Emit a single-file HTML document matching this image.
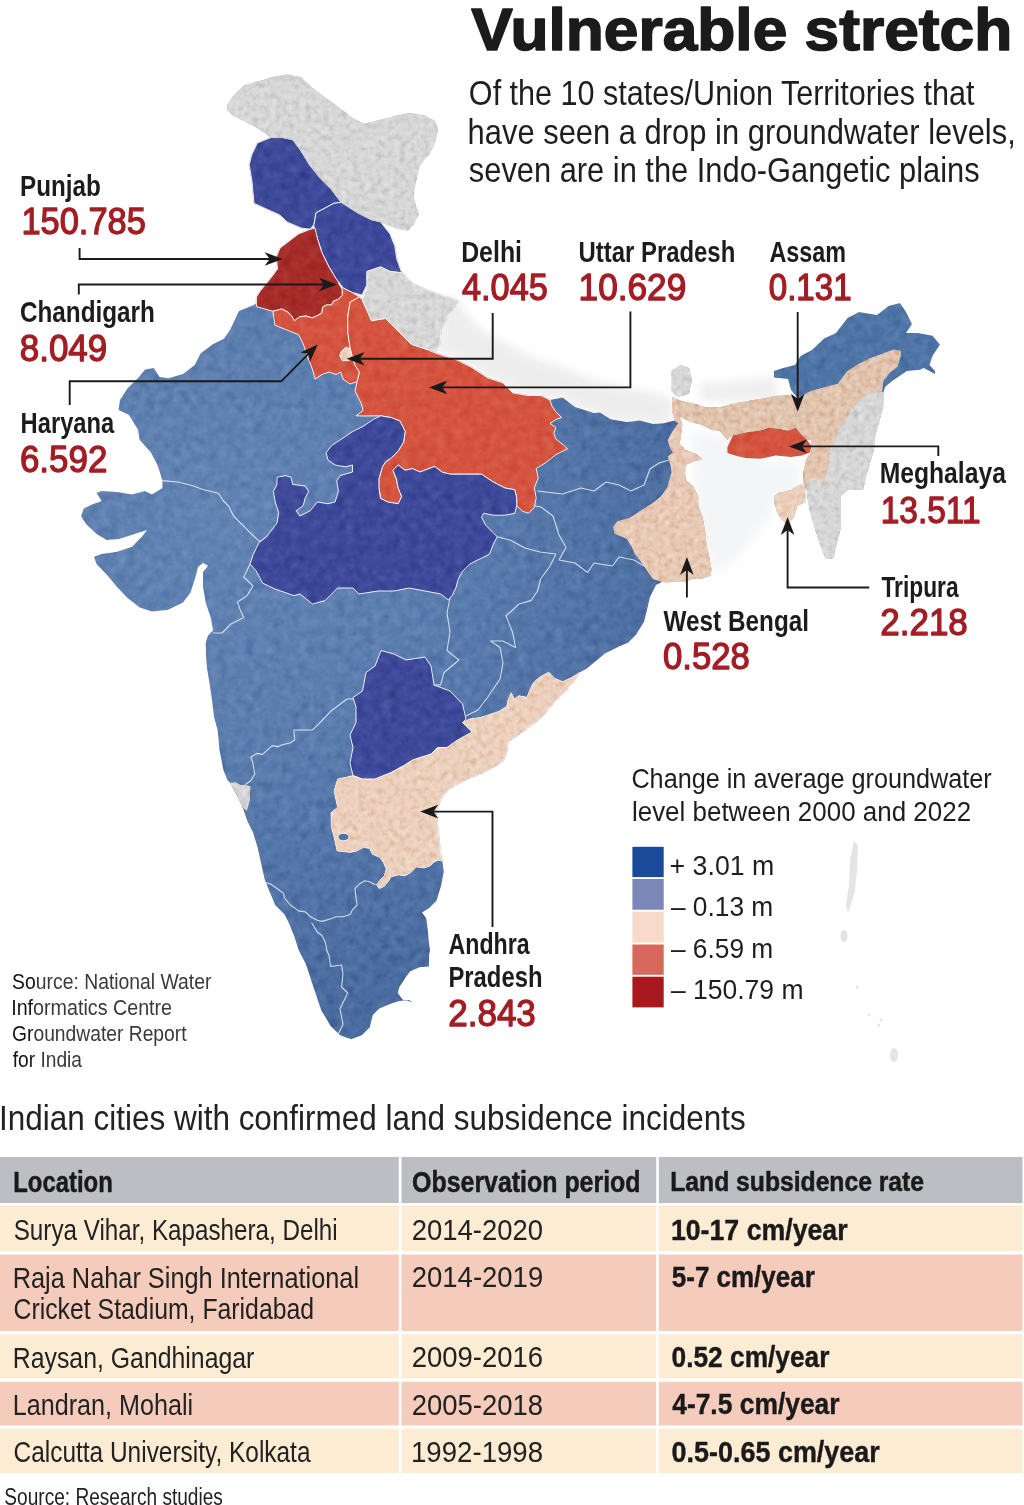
<!DOCTYPE html>
<html lang="en"><head><meta charset="utf-8"><title>Vulnerable stretch</title>
<style>html,body{margin:0;padding:0;background:#fff;}body{width:1024px;height:1505px;overflow:hidden;}svg{display:block;}</style>
</head><body>
<svg width="1024" height="1505" viewBox="0 0 1024 1505">
<rect width="1024" height="1505" fill="#ffffff"/>
<defs><radialGradient id="bg1" gradientUnits="userSpaceOnUse" cx="220" cy="520" r="480"><stop offset="0" stop-color="#6284b4"/><stop offset="0.45" stop-color="#5c7eaf"/><stop offset="1" stop-color="#4a6ca0"/></radialGradient>
<filter id="hs1" x="0" y="0" width="1024" height="1100" filterUnits="userSpaceOnUse" color-interpolation-filters="sRGB"><feTurbulence type="fractalNoise" baseFrequency="0.11" numOctaves="3" seed="7" result="n"/><feColorMatrix in="n" type="matrix" values="0.33 0.33 0.33 0 0 0.33 0.33 0.33 0 0 0.33 0.33 0.33 0 0 0 0 0 0 1" result="g"/><feComponentTransfer in="g" result="g2"><feFuncR type="linear" slope="0.55" intercept="0.22499999999999998"/><feFuncG type="linear" slope="0.55" intercept="0.22499999999999998"/><feFuncB type="linear" slope="0.55" intercept="0.22499999999999998"/></feComponentTransfer><feBlend in="g2" in2="SourceGraphic" mode="soft-light" result="b"/><feComposite in="b" in2="SourceGraphic" operator="in"/></filter>
<filter id="hs2" x="0" y="0" width="1024" height="1100" filterUnits="userSpaceOnUse" color-interpolation-filters="sRGB"><feTurbulence type="fractalNoise" baseFrequency="0.17" numOctaves="3" seed="11" result="n"/><feColorMatrix in="n" type="matrix" values="0.33 0.33 0.33 0 0 0.33 0.33 0.33 0 0 0.33 0.33 0.33 0 0 0 0 0 0 1" result="g"/><feComponentTransfer in="g" result="g2"><feFuncR type="linear" slope="1.4" intercept="-0.19999999999999996"/><feFuncG type="linear" slope="1.4" intercept="-0.19999999999999996"/><feFuncB type="linear" slope="1.4" intercept="-0.19999999999999996"/></feComponentTransfer><feBlend in="g2" in2="SourceGraphic" mode="soft-light" result="b"/><feComposite in="b" in2="SourceGraphic" operator="in"/></filter>
<filter id="bl" x="-20%" y="-20%" width="140%" height="140%"><feGaussianBlur stdDeviation="4"/></filter>
</defs>
<g filter="url(#bl)" opacity="0.9">
<polygon points="436.0,351.0 457.0,360.0 472.0,367.6 487.6,377.8 502.8,382.8 513.0,393.0 528.0,395.5 541.0,395.5 550.0,400.0 562.5,397.5 575.0,407.0 594.0,413.0 606.0,419.0 625.0,422.5 644.0,422.5 662.5,425.6 672.0,420.0 672.0,398.0 650.0,392.0 620.0,386.0 590.0,378.0 560.0,366.0 530.0,356.0 505.0,343.0 482.0,330.0 465.0,312.0 458.0,300.0 445.0,296.0" fill="#ececec" stroke="none" stroke-width="0" stroke-linejoin="round" />
<polygon points="700.0,383.0 740.0,380.0 775.0,376.0 778.0,400.0 740.0,403.0 700.0,401.0" fill="#eeeeee" stroke="none" stroke-width="0" stroke-linejoin="round" />
<polygon points="690.0,432.0 730.0,436.0 760.0,460.0 800.0,462.0 800.0,490.0 775.0,500.0 770.0,520.0 735.0,560.0 715.0,575.0 700.0,540.0 695.0,480.0" fill="#f3f4f6" stroke="none" stroke-width="0" stroke-linejoin="round" />
</g>
<g id="mapA" filter="url(#hs1)">
<polygon points="254.0,305.0 239.0,311.0 230.0,330.0 224.0,338.8 212.4,344.6 200.6,353.4 194.8,365.0 183.0,374.0 168.4,378.3 159.6,377.0 153.8,368.0 145.0,369.6 139.0,377.0 127.4,388.6 120.0,400.0 118.6,410.0 128.8,414.8 138.0,429.7 139.7,440.0 150.6,452.0 157.5,465.0 162.5,480.6 162.5,488.0 152.0,494.6 145.0,491.0 132.0,494.6 117.0,492.0 101.6,491.0 96.5,493.0 101.6,501.0 91.4,504.8 83.8,508.6 81.0,516.0 86.0,524.0 96.5,534.0 106.7,540.0 119.0,539.0 134.6,534.0 147.0,530.0 142.0,536.5 132.0,546.7 117.0,551.7 101.6,554.0 94.0,556.8 96.5,564.0 106.7,574.6 117.0,587.0 127.0,597.4 139.7,607.6 152.0,611.4 167.6,610.0 183.0,602.5 190.5,592.4 195.5,577.0 198.0,567.0 203.0,563.0 208.0,565.7 203.0,572.0 203.0,587.0 205.7,602.5 210.8,617.8 213.0,630.5 208.0,635.5 205.7,643.0 206.0,656.0 207.0,668.0 209.0,680.0 212.0,700.0 214.0,717.0 217.6,730.0 219.5,750.0 223.4,770.0 227.3,780.0 230.3,783.0 238.0,797.0 243.0,808.0 246.9,820.0 251.8,830.0 252.9,832.0 257.6,847.6 261.0,862.8 264.6,879.2 269.3,891.0 275.2,905.0 284.5,914.4 289.2,923.8 294.0,935.5 298.6,950.0 305.6,963.4 313.4,986.9 321.2,1010.3 330.6,1026.0 340.0,1035.3 351.0,1039.2 361.9,1035.3 369.7,1027.5 372.8,1015.0 379.0,1008.8 390.0,1004.0 399.4,1001.0 408.8,1000.0 413.4,1002.5 402.5,999.4 397.8,993.0 399.4,987.0 405.6,977.5 410.3,971.2 419.7,967.3 429.0,966.5 429.0,955.6 430.0,950.0 429.2,944.6 427.8,930.0 426.3,918.3 422.0,912.5 429.2,908.0 436.5,900.8 441.0,886.0 443.8,871.5 442.4,861.3 441.0,857.0 439.5,842.3 438.0,827.7 436.5,816.0 438.0,807.2 441.0,798.5 448.2,789.7 458.5,783.8 470.2,778.0 481.8,773.6 495.6,766.3 503.4,761.2 506.6,751.9 508.1,742.5 514.4,737.8 525.3,730.0 536.2,722.2 545.6,712.8 555.0,701.9 564.4,692.5 573.8,681.6 580.0,672.2 586.2,669.0 595.6,661.2 605.0,653.4 617.5,647.2 628.4,642.5 636.0,634.7 644.0,622.0 647.0,610.0 650.0,597.0 656.0,585.0 662.0,582.0 653.0,578.7 647.8,572.0 643.9,565.4 639.9,560.0 634.6,553.5 631.9,546.8 626.6,538.8 614.6,533.5 613.3,526.9 617.3,521.6 630.6,517.6 642.5,509.6 653.0,503.0 661.0,496.3 667.8,487.0 669.1,480.4 671.8,472.4 670.4,464.4 667.8,456.4 673.0,452.5 670.4,448.5 667.8,440.5 671.8,432.5 678.4,423.2 674.4,420.6 663.8,423.2 653.0,424.0 640.0,420.6 626.6,422.0 610.6,419.2 600.0,412.6 594.0,413.0 575.0,407.0 562.5,397.5 550.0,400.0 500.0,420.0 420.0,390.0 370.0,340.0 340.0,320.0 300.0,315.0 260.0,300.0" fill="url(#bg1)" stroke="none" stroke-width="0" stroke-linejoin="round" />
<polyline points="162.5,480.6 177.8,482.0 193.0,485.7 203.0,489.5 218.4,493.3 223.5,501.0 228.5,506.0 233.6,516.0 241.2,523.8 248.9,531.4 254.0,536.5 260.0,541.6 266.4,537.0" fill="none" stroke="#ffffff" stroke-width="1.1" stroke-opacity="0.75" stroke-linejoin="round"/>
<polyline points="250.0,564.0 243.8,577.0 253.0,586.0 247.0,595.6 237.5,602.0 240.6,611.0 243.8,617.5 231.0,624.0 222.0,633.0 213.0,633.0" fill="none" stroke="#ffffff" stroke-width="1.1" stroke-opacity="0.75" stroke-linejoin="round"/>
<polyline points="245.0,784.7 250.8,780.8 254.7,774.0 252.7,762.0 250.8,757.3 256.6,753.4 262.5,754.4 272.3,745.6 278.0,746.6 283.0,744.6 290.8,742.7 294.7,739.8 293.8,730.0 312.5,730.0 318.8,723.8 331.0,711.0 347.0,699.0 356.0,699.0" fill="none" stroke="#ffffff" stroke-width="1.1" stroke-opacity="0.75" stroke-linejoin="round"/>
<polyline points="265.8,882.7 270.5,884.0 278.7,889.8 283.4,893.3 284.5,898.0 290.4,905.0 298.6,910.9 305.6,912.0 310.3,916.7 317.3,920.2 322.0,921.4 330.2,919.0 336.0,916.7 343.0,916.7 350.2,914.4 352.5,909.7 357.2,905.0 356.0,898.0 354.9,888.6 359.8,883.7 364.6,880.8 369.5,881.8 375.4,884.7" fill="none" stroke="#ffffff" stroke-width="1.1" stroke-opacity="0.75" stroke-linejoin="round"/>
<polyline points="311.5,922.6 317.3,932.0 322.0,935.5 325.5,942.5 326.7,950.0 329.0,955.6 330.6,966.5 341.6,965.0 343.0,974.4 341.6,987.0 347.8,993.0 340.0,1008.8 343.0,1024.4 338.4,1033.8" fill="none" stroke="#ffffff" stroke-width="1.1" stroke-opacity="0.75" stroke-linejoin="round"/>
<polyline points="450.0,597.5 447.0,613.0 450.0,632.0 447.0,650.6 459.0,660.0 444.0,672.5 440.6,685.0 434.0,685.0" fill="none" stroke="#ffffff" stroke-width="1.1" stroke-opacity="0.75" stroke-linejoin="round"/>
<polyline points="466.0,716.0 478.0,710.0 487.5,697.5 500.0,679.0 503.0,663.0 500.0,647.5 490.6,641.0 503.0,641.0 515.6,647.5 512.5,632.0 506.0,616.0 519.0,604.0 531.0,600.6 537.5,591.0 540.6,579.0 550.0,566.0 556.0,554.0" fill="none" stroke="#ffffff" stroke-width="1.1" stroke-opacity="0.75" stroke-linejoin="round"/>
<polyline points="537.5,491.0 562.5,494.0 581.0,488.0 594.0,491.0 606.0,482.0 619.0,485.0 631.0,491.0 644.0,485.0 650.0,469.0 659.0,463.0 669.0,460.0" fill="none" stroke="#ffffff" stroke-width="1.1" stroke-opacity="0.75" stroke-linejoin="round"/>
<polyline points="516.7,505.5 530.0,505.0 541.0,507.0 553.0,516.0 559.0,535.0 566.0,547.5 559.0,560.0 575.0,563.0 587.5,572.5 594.0,563.0 612.5,566.0 619.0,557.0 634.0,560.0 644.0,566.0" fill="none" stroke="#ffffff" stroke-width="1.1" stroke-opacity="0.75" stroke-linejoin="round"/>
<polyline points="497.2,536.7 510.0,540.0 525.0,548.0 540.0,552.0 556.0,554.0" fill="none" stroke="#ffffff" stroke-width="1.1" stroke-opacity="0.75" stroke-linejoin="round"/>
<polygon points="252.0,154.0 257.4,143.0 271.0,137.5 282.0,137.5 293.0,140.0 301.0,151.0 309.4,164.8 320.3,178.5 331.3,189.5 341.0,202.3 333.8,203.4 316.0,212.8 314.0,224.5 310.3,229.2 301.0,228.0 287.0,222.0 279.8,215.0 254.0,203.4 252.0,181.3 249.2,164.8" fill="#3e4a9a" stroke="#ffffff" stroke-width="0.9" stroke-linejoin="round" />
<polygon points="341.0,202.3 357.3,212.8 371.3,219.8 380.6,222.0 390.0,234.0 394.7,245.6 397.0,259.7 401.7,272.6 390.0,271.4 380.6,266.7 366.8,271.4 366.8,285.0 362.0,295.0 352.7,292.7 343.0,288.0 336.0,278.6 329.0,267.0 322.0,252.8 317.5,238.7 314.0,228.0 314.0,224.5 316.0,212.8 333.8,203.4" fill="#3e4a9a" stroke="#ffffff" stroke-width="0.9" stroke-linejoin="round" />
<polygon points="315.0,228.0 310.3,229.2 298.6,234.0 280.0,248.0 276.3,257.3 277.5,269.0 270.5,278.4 261.0,290.0 256.4,297.0 256.4,306.6 272.8,311.3 281.7,309.0 287.6,312.0 291.5,315.9 294.4,320.8 299.3,316.9 306.0,316.0 312.0,317.9 316.9,315.9 321.8,313.0 322.7,307.0 326.6,305.0 331.5,305.0 333.5,301.2 338.4,299.3 342.3,295.4 342.3,289.5 340.3,284.6 336.0,278.6 329.0,267.0 322.0,252.8 317.5,238.7" fill="#a62c29" stroke="#ffffff" stroke-width="0.9" stroke-linejoin="round" />
<polygon points="338.4,283.0 343.0,288.0 352.7,292.7 359.5,297.0 350.2,302.0 347.8,316.0 347.8,332.3 350.2,348.8 354.8,365.0 359.5,372.0 357.2,381.6 350.2,384.0 343.0,379.2 340.8,372.0 336.0,374.5 329.0,372.0 322.0,374.5 315.0,379.2 312.7,370.0 308.0,358.0 303.3,344.0 298.6,334.7 286.9,330.0 275.0,325.3 272.8,311.3 281.7,309.0 287.6,312.0 291.5,315.9 294.4,320.8 299.3,316.9 306.0,316.0 312.0,317.9 316.9,315.9 321.8,313.0 322.7,307.0 326.6,305.0 331.5,305.0 333.5,301.2 338.4,299.3 342.3,295.4 342.3,289.5" fill="#d4543f" stroke="#ffffff" stroke-width="0.9" stroke-linejoin="round" />
<polygon points="359.5,297.0 362.0,299.8 371.5,320.8 385.6,318.5 399.7,332.6 411.4,344.4 425.5,349.0 437.0,353.6 457.0,360.0 472.0,367.6 487.6,377.8 502.8,382.8 513.0,393.0 528.0,395.5 541.0,395.5 550.0,400.0 551.9,405.9 555.8,411.7 561.6,417.6 555.8,419.5 550.0,423.4 555.8,427.3 553.8,433.2 555.8,439.0 563.6,445.0 567.5,448.8 555.8,454.7 546.0,462.5 536.2,468.4 538.2,478.0 534.3,487.9 536.2,497.7 534.3,507.4 528.4,513.3 522.6,511.3 516.7,505.5 516.7,497.7 514.8,489.8 505.0,488.0 493.3,482.0 481.6,474.2 469.8,474.2 458.0,474.2 450.3,474.2 442.5,472.3 434.7,466.4 420.0,472.0 412.3,468.6 405.2,470.3 398.2,465.0 393.0,470.3 396.4,479.0 398.2,487.9 401.7,496.7 398.2,503.7 387.7,502.0 380.6,498.4 378.9,487.9 378.9,479.0 382.4,466.8 385.9,461.5 391.2,458.0 398.2,451.0 403.5,442.2 405.2,431.6 400.0,421.0 391.2,417.6 380.6,415.8 363.0,416.0 356.0,415.8 363.0,410.5 361.3,403.5 355.0,391.0 357.2,381.6 359.5,372.0 354.8,365.0 350.2,348.8 347.8,332.3 347.8,316.0 350.2,302.0" fill="#d4543f" stroke="#ffffff" stroke-width="0.9" stroke-linejoin="round" />
<polygon points="380.6,415.8 391.2,417.6 400.0,421.0 405.2,431.6 403.5,442.2 398.2,451.0 391.2,458.0 385.9,461.5 382.4,466.8 378.9,479.0 378.9,487.9 380.6,498.4 387.7,502.0 398.2,503.7 401.7,496.7 398.2,487.9 396.4,479.0 393.0,470.3 398.2,465.0 405.2,470.3 412.3,468.6 420.0,472.0 434.7,466.4 442.5,472.3 450.3,474.2 458.0,474.2 469.8,474.2 481.6,474.2 493.3,482.0 505.0,488.0 514.8,489.8 516.7,497.7 516.7,505.5 514.8,513.3 505.0,515.2 493.3,515.2 483.5,513.3 481.6,517.2 485.5,525.0 493.3,532.8 497.2,536.7 493.3,544.5 489.4,554.3 477.7,560.0 469.8,564.0 462.0,571.9 458.0,579.7 456.0,587.5 452.3,595.3 448.4,600.0 440.6,594.0 425.0,591.0 409.0,588.0 394.0,591.0 378.0,591.0 359.0,594.0 353.0,588.0 337.5,588.0 325.0,600.6 312.5,604.0 300.0,594.0 294.0,595.6 275.0,589.0 262.5,583.0 256.0,570.6 250.0,564.0 253.0,555.0 259.0,542.5 266.4,537.0 277.0,523.0 278.7,512.5 275.2,502.0 273.4,491.4 277.0,484.4 277.0,477.3 285.7,475.6 291.0,477.3 292.7,484.4 305.0,486.0 308.6,491.4 305.0,498.4 303.3,505.5 296.2,510.7 299.8,516.0 310.3,510.7 317.3,502.0 327.9,503.7 335.0,502.0 338.4,491.4 336.7,480.9 340.2,475.6 352.5,472.0 352.5,465.0 345.5,466.8 335.0,465.0 327.9,459.8 326.1,452.7 331.4,445.7 342.0,438.7 352.5,431.6 363.0,426.4 373.6,419.3" fill="#3e4a9a" stroke="#ffffff" stroke-width="0.9" stroke-linejoin="round" />
<polygon points="381.0,650.6 394.0,654.0 406.0,660.0 425.0,657.0 431.0,666.0 434.0,685.0 450.0,691.0 462.5,704.0 466.0,719.0 462.5,722.5 472.0,732.0 456.0,741.0 447.0,747.5 437.5,747.5 431.0,754.0 412.5,760.0 403.0,766.0 391.0,772.5 375.0,779.0 362.5,779.0 353.0,775.6 350.0,763.0 353.0,747.5 350.0,735.0 356.0,722.5 356.0,707.0 353.0,697.5 362.5,691.0 366.0,672.5 375.0,666.0" fill="#3e4a9a" stroke="#ffffff" stroke-width="0.9" stroke-linejoin="round" />
<polygon points="774.0,371.0 783.0,368.0 795.0,365.0 800.6,356.0 812.0,350.0 824.0,338.6 836.0,333.0 847.5,318.0 859.0,312.0 877.0,315.0 888.5,306.0 900.0,303.0 906.0,312.0 912.0,324.0 906.0,333.0 918.0,333.0 932.5,335.7 940.0,344.5 932.5,356.0 929.5,365.0 935.0,371.0 935.0,374.0 923.7,368.0 920.0,369.7 906.9,371.0 892.8,380.6 885.0,387.0 883.4,393.0 882.0,391.6 883.4,380.6 889.7,372.8 897.5,366.6 900.6,356.0 900.6,351.0 894.0,349.4 882.0,354.0 869.0,358.8 857.0,365.0 847.5,371.0 838.0,383.8 825.6,387.0 810.0,391.6 797.5,398.0 791.0,390.0 788.0,379.0 774.0,377.5" fill="#4f75a7" stroke="none" stroke-width="0" stroke-linejoin="round" />
<polygon points="727.4,447.0 733.0,435.3 748.0,432.0 760.0,430.6 769.4,427.5 780.3,429.0 788.0,430.6 796.0,427.5 800.6,433.8 807.0,440.0 811.5,446.0 810.0,452.5 802.0,455.6 791.0,457.0 775.6,455.6 760.0,458.8 745.0,458.0 736.0,455.8 727.4,453.0" fill="#d4543f" stroke="none" stroke-width="0" stroke-linejoin="round" />
</g>
<g id="mapB" filter="url(#hs2)">
<polygon points="227.3,104.7 232.8,96.5 243.8,85.5 263.0,80.0 271.0,77.3 287.5,74.6 301.0,77.3 309.4,85.5 320.3,93.8 331.3,102.0 342.2,110.0 353.0,118.4 364.0,123.8 375.0,121.0 386.0,118.4 397.0,115.6 410.6,113.0 424.2,115.6 435.0,121.0 438.0,129.3 435.0,143.0 429.7,154.0 424.2,159.4 418.8,167.6 416.0,181.3 413.3,195.0 416.0,206.0 418.8,214.0 413.3,225.0 407.8,230.5 396.9,228.5 386.0,224.5 380.6,222.0 371.3,219.8 357.3,212.8 341.0,202.3 331.3,189.5 320.3,178.5 309.4,164.8 301.0,151.0 293.0,140.0 282.0,137.5 271.0,137.5 263.0,132.0 254.7,126.6 243.8,121.0 232.8,115.6 227.3,110.0" fill="#d7d7d7" stroke="none" stroke-width="0" stroke-linejoin="round" />
<polygon points="366.8,271.4 380.6,266.7 390.0,271.4 401.7,272.6 413.4,283.0 427.5,290.0 441.6,294.8 459.0,301.0 448.0,316.0 441.0,330.0 440.0,344.0 436.0,351.5 425.5,349.0 411.4,344.4 399.7,332.6 385.6,318.5 371.5,320.8 362.0,299.8 366.8,290.0" fill="#d7d7d7" stroke="#ffffff" stroke-width="0.9" stroke-linejoin="round" />
<polygon points="341.0,351.5 345.6,347.0 350.3,348.4 352.0,354.7 348.8,361.0 342.5,361.0 339.5,356.0" fill="#ecd0bd" stroke="#ffffff" stroke-width="0.9" stroke-linejoin="round" />
<polygon points="580.0,672.2 573.8,681.6 564.4,692.5 555.0,701.9 545.6,712.8 536.2,722.2 525.3,730.0 514.4,737.8 508.1,742.5 506.6,751.9 503.4,761.2 495.6,766.3 481.8,773.6 470.2,778.0 458.5,783.8 448.2,789.7 441.0,798.5 438.0,807.2 436.5,816.0 438.0,827.7 439.5,842.3 441.0,857.0 442.4,861.3 437.9,860.3 434.0,862.2 430.0,866.1 424.2,868.1 416.4,867.1 410.5,873.0 404.7,875.9 398.8,874.9 391.0,876.9 389.0,880.8 384.2,886.6 379.3,888.6 376.4,884.7 379.3,880.8 384.2,875.9 386.1,869.0 383.2,862.2 379.3,857.3 372.5,854.4 369.5,848.5 363.7,847.6 355.9,851.5 350.0,852.5 337.0,851.0 334.0,837.0 331.0,826.0 331.0,813.0 337.5,807.0 334.0,791.0 337.5,779.0 353.0,775.6 362.5,779.0 375.0,779.0 391.0,772.5 403.0,766.0 412.5,760.0 431.0,754.0 437.5,747.5 447.0,747.5 456.0,741.0 472.0,732.0 462.5,722.5 469.0,719.0 480.0,717.5 489.4,714.4 498.8,711.2 506.6,706.6 508.1,698.8 511.2,692.5 514.4,698.8 519.0,695.6 526.9,697.2 530.0,689.4 533.1,683.1 537.8,678.4 542.5,675.3 548.8,672.2 555.0,678.4 562.8,681.6 572.2,676.9" fill="#ecd0bd" stroke="#ffffff" stroke-width="0.9" stroke-linejoin="round" />
<polygon points="230.0,783.0 236.0,782.0 241.0,785.0 245.0,784.7 250.8,786.0 250.0,800.0 247.0,811.0 243.0,808.0 238.0,797.0" fill="#d7d7d7" stroke="none" stroke-width="0" stroke-linejoin="round" />
<polygon points="672.0,397.0 679.7,400.6 679.7,416.6 682.4,424.6 681.0,435.2 679.7,443.2 685.0,449.8 695.7,453.8 702.3,459.0 693.0,461.8 686.4,464.4 685.0,472.4 686.4,480.4 693.0,485.7 698.3,496.3 698.3,505.6 702.3,516.2 705.0,529.5 706.3,542.8 709.0,556.0 711.6,569.4 710.3,576.0 701.0,578.7 693.0,578.7 685.0,581.4 674.4,581.4 666.4,582.7 661.0,581.4 653.0,578.7 647.8,572.0 643.9,565.4 639.9,560.0 634.6,553.5 631.9,546.8 626.6,538.8 614.6,533.5 613.3,526.9 617.3,521.6 630.6,517.6 642.5,509.6 653.0,503.0 661.0,496.3 667.8,487.0 669.1,480.4 671.8,472.4 670.4,464.4 667.8,456.4 673.0,452.5 670.4,448.5 667.8,440.5 671.8,432.5 678.4,423.2 674.4,420.6 672.0,410.0" fill="#e8cab6" stroke="none" stroke-width="0" stroke-linejoin="round" />
<polygon points="676.0,399.0 679.7,400.6 693.0,403.3 706.3,407.3 720.0,407.3 736.0,403.0 753.8,400.0 766.0,398.0 774.0,396.0 788.0,395.0 797.5,398.0 810.0,391.6 825.6,387.0 838.0,383.8 847.5,371.0 857.0,365.0 869.0,358.8 882.0,354.0 894.0,349.4 900.6,351.0 900.6,356.0 897.5,366.6 889.7,372.8 883.4,380.6 882.0,391.6 869.0,393.0 857.0,402.5 849.0,413.4 841.0,427.5 835.0,440.0 830.0,449.4 828.8,462.0 827.0,474.4 822.5,485.3 815.0,489.0 806.5,491.0 803.6,485.0 803.0,473.0 806.0,460.0 811.5,450.0 811.5,440.0 807.0,440.0 800.6,433.8 796.0,427.5 788.0,430.6 780.3,429.0 769.4,427.5 760.0,430.6 748.0,432.0 733.0,435.3 727.4,440.0 720.0,431.2 711.6,429.9 701.0,424.6 690.4,422.0 679.7,416.6" fill="#e2c5af" stroke="none" stroke-width="0" stroke-linejoin="round" />
<polygon points="671.7,371.0 680.5,365.0 689.0,368.0 692.0,380.0 689.0,394.0 677.6,397.0 671.7,391.0" fill="#d7d7d7" stroke="none" stroke-width="0" stroke-linejoin="round" />
<polygon points="869.0,393.0 882.0,391.6 883.4,393.0 883.4,405.6 880.3,418.0 875.6,433.8 874.0,449.4 869.4,465.0 866.0,477.5 863.0,490.0 847.5,490.0 841.0,496.0 841.0,512.0 841.0,527.5 836.6,543.0 833.4,558.8 825.6,558.8 819.4,543.0 814.7,527.5 810.0,512.0 807.0,496.0 807.0,480.6 814.7,477.5 822.5,485.3 827.0,474.4 828.8,462.0 830.0,449.4 835.0,440.0 841.0,427.5 849.0,413.4 857.0,402.5" fill="#d7d7d7" stroke="none" stroke-width="0" stroke-linejoin="round" />
<polygon points="774.0,496.0 778.8,493.0 791.0,490.0 800.6,483.8 805.3,488.4 805.3,502.5 797.5,505.6 794.4,516.6 788.0,524.4 781.9,519.7 777.0,512.0 774.0,502.5" fill="#ecd0bd" stroke="none" stroke-width="0" stroke-linejoin="round" />
</g>
<ellipse cx="343.5" cy="837" rx="5.5" ry="3.8" fill="#4f73a6" stroke="#fff" stroke-width="0.9"/>
<g fill="#e4e4e4">
<path d="M854,841 L858,846 L857,870 L855,890 L851,905 L848,913 L846,905 L849,885 L850,860 Z"/>
<ellipse cx="844" cy="936" rx="3.5" ry="6"/>
<circle cx="857" cy="987" r="1.6"/><circle cx="869" cy="1015" r="1.4"/><circle cx="881" cy="1020" r="1.6"/><circle cx="879" cy="1025" r="1.5"/>
<ellipse cx="894" cy="1055" rx="4" ry="7"/>
</g>
<rect x="632.4" y="846.8" width="31.3" height="30.3" fill="#1b4a9a"/>
<rect x="632.4" y="879.0" width="31.3" height="30.7" fill="#7b87b6"/>
<rect x="632.4" y="911.7" width="31.3" height="30.8" fill="#f7dac9"/>
<rect x="632.4" y="944.5" width="31.3" height="30.3" fill="#d6695b"/>
<rect x="632.4" y="976.7" width="31.3" height="30.7" fill="#a8191f"/>
<rect x="0.0" y="1157.0" width="398.8" height="46.1" fill="#bdbec3"/>
<rect x="401.5" y="1157.0" width="254.7" height="46.1" fill="#bdbec3"/>
<rect x="658.8" y="1157.0" width="363.7" height="46.1" fill="#bdbec3"/>
<rect x="0.0" y="1205.4" width="398.8" height="45.8" fill="#fdecd4"/>
<rect x="401.5" y="1205.4" width="254.7" height="45.8" fill="#fdecd4"/>
<rect x="658.8" y="1205.4" width="363.7" height="45.8" fill="#fdecd4"/>
<rect x="0.0" y="1254.5" width="398.8" height="76.5" fill="#f5cbbb"/>
<rect x="401.5" y="1254.5" width="254.7" height="76.5" fill="#f5cbbb"/>
<rect x="658.8" y="1254.5" width="363.7" height="76.5" fill="#f5cbbb"/>
<rect x="0.0" y="1334.2" width="398.8" height="44.2" fill="#fdecd4"/>
<rect x="401.5" y="1334.2" width="254.7" height="44.2" fill="#fdecd4"/>
<rect x="658.8" y="1334.2" width="363.7" height="44.2" fill="#fdecd4"/>
<rect x="0.0" y="1381.7" width="398.8" height="43.8" fill="#f5cbbb"/>
<rect x="401.5" y="1381.7" width="254.7" height="43.8" fill="#f5cbbb"/>
<rect x="658.8" y="1381.7" width="363.7" height="43.8" fill="#f5cbbb"/>
<rect x="0.0" y="1428.8" width="398.8" height="44.2" fill="#fdecd4"/>
<rect x="401.5" y="1428.8" width="254.7" height="44.2" fill="#fdecd4"/>
<rect x="658.8" y="1428.8" width="363.7" height="44.2" fill="#fdecd4"/>
<polyline points="79.6,248.0 79.6,259.0 272.7,259.0" fill="none" stroke="#1a1a1a" stroke-width="1.9"/>
<polygon points="282.7,259.0 264.7,265.8 269.7,259.0 264.7,252.2" fill="#1a1a1a"/>
<polyline points="78.8,294.5 78.8,284.5 327.0,284.5" fill="none" stroke="#1a1a1a" stroke-width="1.9"/>
<polygon points="337.0,284.5 319.0,291.3 324.0,284.5 319.0,277.7" fill="#1a1a1a"/>
<polyline points="69.7,405.0 69.7,381.3 281.2,381.3 310.7,351.7" fill="none" stroke="#1a1a1a" stroke-width="1.9"/>
<polygon points="317.8,344.6 309.9,362.1 308.6,353.8 300.3,352.5" fill="#1a1a1a"/>
<polyline points="492.7,313.0 492.7,358.7 356.7,358.7" fill="none" stroke="#1a1a1a" stroke-width="1.9"/>
<polygon points="346.7,358.7 364.7,351.9 359.7,358.7 364.7,365.5" fill="#1a1a1a"/>
<polyline points="630.4,311.4 630.4,387.4 439.2,387.4" fill="none" stroke="#1a1a1a" stroke-width="1.9"/>
<polygon points="429.2,387.4 447.2,380.6 442.2,387.4 447.2,394.2" fill="#1a1a1a"/>
<polyline points="797.7,312.0 797.7,401.8" fill="none" stroke="#1a1a1a" stroke-width="1.9"/>
<polygon points="797.7,411.8 790.9,393.8 797.7,398.8 804.5,393.8" fill="#1a1a1a"/>
<polyline points="938.3,456.0 938.3,446.4 799.0,446.4" fill="none" stroke="#1a1a1a" stroke-width="1.9"/>
<polygon points="789.0,446.4 807.0,439.6 802.0,446.4 807.0,453.2" fill="#1a1a1a"/>
<polyline points="869.2,587.5 787.6,587.5 787.6,527.0" fill="none" stroke="#1a1a1a" stroke-width="1.9"/>
<polygon points="787.6,517.0 794.4,535.0 787.6,530.0 780.8,535.0" fill="#1a1a1a"/>
<polyline points="686.9,597.5 686.9,566.9" fill="none" stroke="#1a1a1a" stroke-width="1.9"/>
<polygon points="686.9,556.9 693.7,574.9 686.9,569.9 680.1,574.9" fill="#1a1a1a"/>
<polyline points="492.5,927.0 492.5,811.6 430.3,811.6" fill="none" stroke="#1a1a1a" stroke-width="1.9"/>
<polygon points="420.3,811.6 438.3,804.8 433.3,811.6 438.3,818.4" fill="#1a1a1a"/>
<g font-family="'Liberation Sans', Arial, sans-serif">
<text x="471.28" y="49.90" font-size="59.59" textLength="540.97" lengthAdjust="spacingAndGlyphs" fill="#1b1b1b" font-weight="bold" stroke="#1b1b1b" stroke-width="1.6" stroke-linejoin="round">Vulnerable stretch</text>
<text x="468.86" y="105.40" font-size="35.61" textLength="505.66" lengthAdjust="spacingAndGlyphs" fill="#1e1e1e" font-weight="normal">Of the 10 states/Union Territories that</text>
<text x="467.56" y="144.20" font-size="35.61" textLength="548.22" lengthAdjust="spacingAndGlyphs" fill="#1e1e1e" font-weight="normal">have seen a drop in groundwater levels,</text>
<text x="468.84" y="181.60" font-size="35.61" textLength="510.77" lengthAdjust="spacingAndGlyphs" fill="#1e1e1e" font-weight="normal">seven are in the Indo-Gangetic plains</text>
<text x="20.08" y="195.60" font-size="29.80" textLength="80.71" lengthAdjust="spacingAndGlyphs" fill="#1c1c1c" font-weight="bold">Punjab</text>
<text x="21.38" y="234.20" font-size="37.50" textLength="124.47" lengthAdjust="spacingAndGlyphs" fill="#a21d24" font-weight="normal" stroke="#a21d24" stroke-width="1.3" stroke-linejoin="round">150.785</text>
<text x="19.90" y="322.00" font-size="29.80" textLength="135.00" lengthAdjust="spacingAndGlyphs" fill="#1c1c1c" font-weight="bold">Chandigarh</text>
<text x="19.73" y="360.60" font-size="37.50" textLength="87.53" lengthAdjust="spacingAndGlyphs" fill="#a21d24" font-weight="normal" stroke="#a21d24" stroke-width="1.3" stroke-linejoin="round">8.049</text>
<text x="20.61" y="432.50" font-size="29.80" textLength="93.64" lengthAdjust="spacingAndGlyphs" fill="#1c1c1c" font-weight="bold">Haryana</text>
<text x="19.93" y="471.60" font-size="37.50" textLength="87.43" lengthAdjust="spacingAndGlyphs" fill="#a21d24" font-weight="normal" stroke="#a21d24" stroke-width="1.3" stroke-linejoin="round">6.592</text>
<text x="461.13" y="261.60" font-size="29.80" textLength="60.93" lengthAdjust="spacingAndGlyphs" fill="#1c1c1c" font-weight="bold">Delhi</text>
<text x="462.01" y="300.30" font-size="37.50" textLength="85.83" lengthAdjust="spacingAndGlyphs" fill="#a21d24" font-weight="normal" stroke="#a21d24" stroke-width="1.3" stroke-linejoin="round">4.045</text>
<text x="578.56" y="261.60" font-size="29.80" textLength="156.72" lengthAdjust="spacingAndGlyphs" fill="#1c1c1c" font-weight="bold">Uttar Pradesh</text>
<text x="578.62" y="300.30" font-size="37.50" textLength="107.65" lengthAdjust="spacingAndGlyphs" fill="#a21d24" font-weight="normal" stroke="#a21d24" stroke-width="1.3" stroke-linejoin="round">10.629</text>
<text x="769.42" y="261.60" font-size="29.80" textLength="76.63" lengthAdjust="spacingAndGlyphs" fill="#1c1c1c" font-weight="bold">Assam</text>
<text x="768.71" y="300.30" font-size="37.50" textLength="82.91" lengthAdjust="spacingAndGlyphs" fill="#a21d24" font-weight="normal" stroke="#a21d24" stroke-width="1.3" stroke-linejoin="round">0.131</text>
<text x="879.65" y="483.40" font-size="29.80" textLength="126.30" lengthAdjust="spacingAndGlyphs" fill="#1c1c1c" font-weight="bold">Meghalaya</text>
<text x="880.71" y="523.00" font-size="37.50" textLength="99.88" lengthAdjust="spacingAndGlyphs" fill="#a21d24" font-weight="normal" stroke="#a21d24" stroke-width="1.3" stroke-linejoin="round">13.511</text>
<text x="881.45" y="596.60" font-size="29.80" textLength="77.11" lengthAdjust="spacingAndGlyphs" fill="#1c1c1c" font-weight="bold">Tripura</text>
<text x="880.24" y="635.30" font-size="37.50" textLength="87.58" lengthAdjust="spacingAndGlyphs" fill="#a21d24" font-weight="normal" stroke="#a21d24" stroke-width="1.3" stroke-linejoin="round">2.218</text>
<text x="663.58" y="630.60" font-size="29.80" textLength="145.44" lengthAdjust="spacingAndGlyphs" fill="#1c1c1c" font-weight="bold">West Bengal</text>
<text x="663.04" y="669.20" font-size="37.50" textLength="86.86" lengthAdjust="spacingAndGlyphs" fill="#a21d24" font-weight="normal" stroke="#a21d24" stroke-width="1.3" stroke-linejoin="round">0.528</text>
<text x="448.52" y="953.70" font-size="29.80" textLength="81.03" lengthAdjust="spacingAndGlyphs" fill="#1c1c1c" font-weight="bold">Andhra</text>
<text x="448.41" y="986.90" font-size="29.80" textLength="94.07" lengthAdjust="spacingAndGlyphs" fill="#1c1c1c" font-weight="bold">Pradesh</text>
<text x="448.24" y="1025.80" font-size="37.50" textLength="87.60" lengthAdjust="spacingAndGlyphs" fill="#a21d24" font-weight="normal" stroke="#a21d24" stroke-width="1.3" stroke-linejoin="round">2.843</text>
<text x="631.42" y="788.30" font-size="28.34" textLength="360.30" lengthAdjust="spacingAndGlyphs" fill="#1e1e1e" font-weight="normal">Change in average groundwater</text>
<text x="631.95" y="820.50" font-size="28.34" textLength="339.15" lengthAdjust="spacingAndGlyphs" fill="#1e1e1e" font-weight="normal">level between 2000 and 2022</text>
<text x="669.60" y="875.20" font-size="28.34" textLength="104.66" lengthAdjust="spacingAndGlyphs" fill="#1e1e1e" font-weight="normal">+ 3.01 m</text>
<text x="670.90" y="916.20" font-size="28.34" textLength="102.33" lengthAdjust="spacingAndGlyphs" fill="#1e1e1e" font-weight="normal">– 0.13 m</text>
<text x="670.90" y="958.20" font-size="28.34" textLength="102.33" lengthAdjust="spacingAndGlyphs" fill="#1e1e1e" font-weight="normal">– 6.59 m</text>
<text x="670.90" y="999.20" font-size="28.34" textLength="132.65" lengthAdjust="spacingAndGlyphs" fill="#1e1e1e" font-weight="normal">– 150.79 m</text>
<text x="12.12" y="989.20" font-size="22.24" textLength="199.30" lengthAdjust="spacingAndGlyphs" fill="#3a3a3a" font-weight="normal"><tspan fill="#141414">So</tspan>urce: National Water</text>
<text x="11.18" y="1015.00" font-size="22.24" textLength="160.89" lengthAdjust="spacingAndGlyphs" fill="#3a3a3a" font-weight="normal"><tspan fill="#141414">Inf</tspan>ormatics Centre</text>
<text x="12.03" y="1040.90" font-size="22.24" textLength="174.51" lengthAdjust="spacingAndGlyphs" fill="#3a3a3a" font-weight="normal"><tspan fill="#141414">Gr</tspan>oundwater Report</text>
<text x="12.73" y="1066.70" font-size="22.24" textLength="69.27" lengthAdjust="spacingAndGlyphs" fill="#3a3a3a" font-weight="normal"><tspan fill="#141414">for</tspan> India</text>
<text x="-0.90" y="1129.60" font-size="34.88" textLength="746.64" lengthAdjust="spacingAndGlyphs" fill="#222222" font-weight="normal">Indian cities with confirmed land subsidence incidents</text>
<text x="13.20" y="1192.20" font-size="29.94" textLength="99.58" lengthAdjust="spacingAndGlyphs" fill="#1a1a1a" font-weight="bold" stroke="#1a1a1a" stroke-width="0.5" stroke-linejoin="round">Location</text>
<text x="412.08" y="1191.50" font-size="29.07" textLength="228.46" lengthAdjust="spacingAndGlyphs" fill="#1a1a1a" font-weight="bold" stroke="#1a1a1a" stroke-width="0.5" stroke-linejoin="round">Observation period</text>
<text x="670.25" y="1190.90" font-size="26.89" textLength="253.80" lengthAdjust="spacingAndGlyphs" fill="#1a1a1a" font-weight="bold" stroke="#1a1a1a" stroke-width="0.5" stroke-linejoin="round">Land subsidence rate</text>
<text x="13.71" y="1239.80" font-size="28.78" textLength="323.92" lengthAdjust="spacingAndGlyphs" fill="#222222" font-weight="normal">Surya Vihar, Kapashera, Delhi</text>
<text x="411.72" y="1239.60" font-size="29.80" textLength="131.25" lengthAdjust="spacingAndGlyphs" fill="#222222" font-weight="normal">2014-2020</text>
<text x="670.92" y="1239.50" font-size="28.78" textLength="176.69" lengthAdjust="spacingAndGlyphs" fill="#1a1a1a" font-weight="bold" stroke="#1a1a1a" stroke-width="0.4" stroke-linejoin="round">10-17 cm/year</text>
<text x="12.72" y="1287.50" font-size="28.78" textLength="346.37" lengthAdjust="spacingAndGlyphs" fill="#222222" font-weight="normal">Raja Nahar Singh International</text>
<text x="13.54" y="1318.75" font-size="28.78" textLength="300.56" lengthAdjust="spacingAndGlyphs" fill="#222222" font-weight="normal">Cricket Stadium, Faridabad</text>
<text x="411.72" y="1286.70" font-size="29.80" textLength="131.49" lengthAdjust="spacingAndGlyphs" fill="#222222" font-weight="normal">2014-2019</text>
<text x="671.80" y="1287.00" font-size="28.78" textLength="142.99" lengthAdjust="spacingAndGlyphs" fill="#1a1a1a" font-weight="bold" stroke="#1a1a1a" stroke-width="0.4" stroke-linejoin="round">5-7 cm/year</text>
<text x="12.76" y="1367.60" font-size="28.78" textLength="241.65" lengthAdjust="spacingAndGlyphs" fill="#222222" font-weight="normal">Raysan, Gandhinagar</text>
<text x="411.72" y="1367.40" font-size="29.80" textLength="131.39" lengthAdjust="spacingAndGlyphs" fill="#222222" font-weight="normal">2009-2016</text>
<text x="671.56" y="1367.30" font-size="28.78" textLength="157.84" lengthAdjust="spacingAndGlyphs" fill="#1a1a1a" font-weight="bold" stroke="#1a1a1a" stroke-width="0.4" stroke-linejoin="round">0.52 cm/year</text>
<text x="12.74" y="1414.80" font-size="28.78" textLength="180.36" lengthAdjust="spacingAndGlyphs" fill="#222222" font-weight="normal">Landran, Mohali</text>
<text x="411.72" y="1414.90" font-size="29.80" textLength="131.38" lengthAdjust="spacingAndGlyphs" fill="#222222" font-weight="normal">2005-2018</text>
<text x="672.20" y="1413.70" font-size="28.78" textLength="167.40" lengthAdjust="spacingAndGlyphs" fill="#1a1a1a" font-weight="bold" stroke="#1a1a1a" stroke-width="0.4" stroke-linejoin="round">4-7.5 cm/year</text>
<text x="13.57" y="1461.70" font-size="28.78" textLength="296.93" lengthAdjust="spacingAndGlyphs" fill="#222222" font-weight="normal">Calcutta University, Kolkata</text>
<text x="411.00" y="1462.00" font-size="29.80" textLength="132.10" lengthAdjust="spacingAndGlyphs" fill="#222222" font-weight="normal">1992-1998</text>
<text x="671.53" y="1462.30" font-size="28.78" textLength="208.27" lengthAdjust="spacingAndGlyphs" fill="#1a1a1a" font-weight="bold" stroke="#1a1a1a" stroke-width="0.4" stroke-linejoin="round">0.5-0.65 cm/year</text>
<text x="4.33" y="1504.50" font-size="23.55" textLength="218.56" lengthAdjust="spacingAndGlyphs" fill="#222222" font-weight="normal">Source: Research studies</text>
</g>
</svg>
</body></html>
